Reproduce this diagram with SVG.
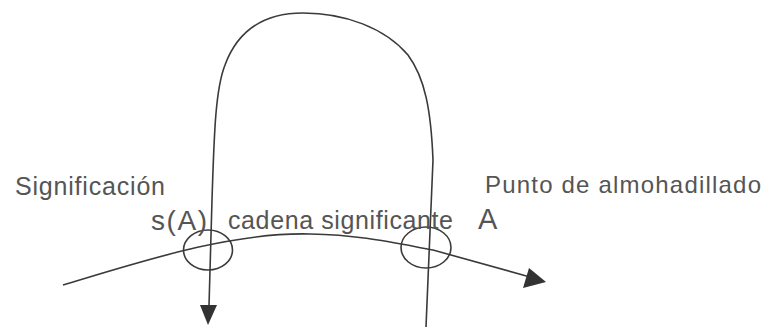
<svg xmlns="http://www.w3.org/2000/svg" width="771" height="327" viewBox="0 0 771 327">
<style>
.ln{fill:none;stroke:#3a3a3a;stroke-width:1.6}
.ah{fill:#333;stroke:none}
.t{font-family:"Liberation Sans",Arial,sans-serif;fill:#555}
</style>
<rect width="771" height="327" fill="#fff"/>
<g id="connectors">
<path class="ln" d="M209,306 L212,200 C214,140 215,90 225,65 C238,30 265,13 303,13 C345,13 385,28 408,55 C425,78 431,110 433,160 L426,327"/>
<polygon class="ah" points="200,305 217,305 208,325"/>
<path class="ln" d="M63,285 C140,262 230,232 310,234 C360,235 390,242 433,250 L530,277"/>
<polygon class="ah" points="546,282 529,268 523,288"/>
</g>
<g id="node-sA-circle"><ellipse class="ln" cx="208" cy="250" rx="24.5" ry="20"/></g>
<g id="node-A-circle"><ellipse class="ln" cx="426" cy="247.5" rx="25" ry="20.5"/></g>
<g id="label-significacion"><text class="t" x="15" y="195" font-size="25" textLength="150" lengthAdjust="spacing">Significación</text></g>
<g id="label-punto"><text class="t" x="485" y="193" font-size="24" textLength="276" lengthAdjust="spacing">Punto de almohadillado</text></g>
<g id="label-sA"><text class="t" x="151" y="230" font-size="28" textLength="56" lengthAdjust="spacing">s(A)</text></g>
<g id="label-cadena"><text class="t" x="228" y="229" font-size="25" textLength="225" lengthAdjust="spacing">cadena significante</text></g>
<g id="label-A"><text class="t" x="478" y="229" font-size="29">A</text></g>
</svg>
